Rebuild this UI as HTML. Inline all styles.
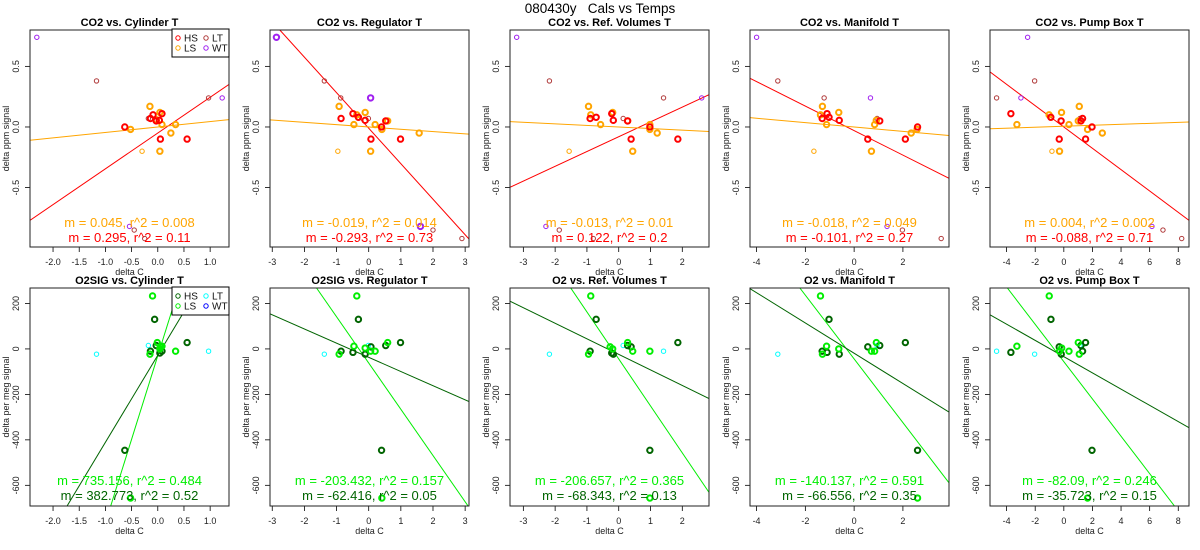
<!DOCTYPE html>
<html><head><meta charset="utf-8"><style>
html,body{margin:0;padding:0;background:#fff;width:1200px;height:550px;overflow:hidden}
svg{display:block;font-family:"Liberation Sans",sans-serif}
</style></head><body>
<svg id="chart" width="1200" height="550" viewBox="0 0 1200 550">
<text x="600" y="13" text-anchor="middle" font-size="13.5">080430y&#160;&#160;&#160;Cals vs Temps</text>
</svg>
<script>
// ---------- data ----------
const titles = ["CO2 vs. Cylinder T","CO2 vs. Regulator T","CO2 vs. Ref. Volumes T","CO2 vs. Manifold T","CO2 vs. Pump Box T",
 "O2SIG vs. Cylinder T","O2SIG vs. Regulator T","O2 vs. Ref. Volumes T","O2 vs. Manifold T","O2 vs. Pump Box T"];
const xLimits = [[-2.44,1.36],[-3.07,3.12],[-3.42,2.84],[-4.27,3.89],[-5.16,8.75]];
const xTicks = [[-2,-1.5,-1,-0.5,0,0.5,1],[-3,-2,-1,0,1,2,3],[-3,-2,-1,0,1,2],[-4,-2,0,2],[-4,-2,0,2,4,6,8]];
const xTickLabels = [["-2.0","-1.5","-1.0","-0.5","0.0","0.5","1.0"],["-3","-2","-1","0","1","2","3"],["-3","-2","-1","0","1","2"],["-4","-2","0","2"],["-4","-2","0","2","4","6","8"]];
const co2YLimit = [-0.99,0.80];
const co2YTicks = [-0.5,0,0.5];
const co2YTickLabels = ["-0.5","0.0","0.5"];
const o2YLimit = [-691,268];
const o2YTicks = [-600,-400,-200,0,200];
const o2YTickLabels = ["-600","-400","-200","0","200"];

// CO2 row: HS (red), LS (orange), LS thin, LT (brown), WT (purple)
const co2HSx = [[-0.63,-0.09,-0.14,-0.03,0.08,0.05,0.56,0.03],[-0.49,-0.86,-0.32,-0.11,0.40,0.53,0.07,0.99],[-0.90,-0.71,-0.22,-0.17,0.39,0.98,1.86,0.28],[-1.31,-1.11,-1.03,-0.61,0.56,1.05,2.10,2.60],[-3.70,-0.91,-0.32,-0.19,1.20,1.31,1.52,1.97]];
const co2HSy = [[0.00,0.10,0.07,0.05,0.11,-0.10,-0.10,0.055],[0.11,0.07,0.08,0.055,0.00,0.05,-0.10,-0.10],[0.07,0.08,0.11,0.055,-0.10,0.00,-0.10,0.05],[0.07,0.11,0.08,0.055,-0.10,0.05,-0.10,0.00],[0.11,0.08,-0.10,0.05,0.05,0.07,-0.10,0.00]];
const co2LSx = [[-0.52,-0.15,0.04,-0.03,0.08,0.34,0.25,0.04],[-0.92,-0.46,-0.37,-0.11,0.20,0.41,0.59,1.57,0.06],[-0.95,-0.88,-0.57,-0.19,0.28,0.98,0.98,1.21,0.44],[-1.30,-1.38,-1.13,-0.63,0.84,0.91,2.34,2.58,0.71],[-3.28,-1.03,-0.16,0.36,1.01,1.08,1.66,2.69,-0.30]];
const co2LSy = [[-0.02,0.17,0.12,0.06,0.02,0.02,-0.05,-0.20],[0.17,0.02,0.10,0.12,0.02,-0.02,0.05,-0.05,-0.20],[0.17,0.10,0.02,0.12,0.05,0.02,-0.02,-0.05,-0.20],[0.17,0.10,0.02,0.12,0.02,0.055,-0.05,-0.02,-0.20],[0.02,0.10,0.12,0.02,0.05,0.17,-0.02,-0.05,-0.20]];
const co2LSthinX = [[-0.30],[-0.96],[-1.56],[-1.65],[-0.83]];
const co2LSthinY = [[-0.20],[-0.20],[-0.20],[-0.20],[-0.20]];
const co2LTx = [[-1.17,0.97,-0.45,-0.25,-0.18],[-1.38,-0.87,-0.01,2.00,2.90],[-2.18,0.14,1.41,-1.87,-0.80],[-3.13,-1.23,0.94,1.98,3.57],[-4.70,-2.04,1.13,6.93,8.24]];
const co2LTy = [[0.38,0.24,-0.85,-0.92,0.07],[0.38,0.24,0.07,-0.85,-0.92],[0.38,0.07,0.24,-0.85,-0.92],[0.38,0.24,0.07,-0.85,-0.92],[0.24,0.38,0.07,-0.85,-0.92]];
const co2WTx = [[-2.31,1.23,-0.54],[-2.87,0.06,1.61],[-3.21,2.61,-2.29],[-4.00,0.67,1.35],[-2.53,-3.00,6.16]];
const co2WTy = [[0.74,0.24,-0.82],[0.74,0.24,-0.82],[0.74,0.24,-0.82],[0.74,0.24,-0.82],[0.74,0.24,-0.82]];
const co2HSslope = [0.295,-0.293,0.122,-0.101,-0.088];
const co2HSintercept = [-0.05,-0.01,-0.08,-0.03,0.0];
const co2LSslope = [0.045,-0.019,-0.013,-0.018,0.004];
const co2LSintercept = [0.0,0.0,0.0,0.0,0.006];
const co2LSlabels = ["m = 0.045, r^2 = 0.008","m = -0.019, r^2 = 0.014","m = -0.013, r^2 = 0.01","m = -0.018, r^2 = 0.049","m = 0.004, r^2 = 0.002"];
const co2HSlabels = ["m = 0.295, r^2 = 0.11","m = -0.293, r^2 = 0.73","m = 0.122, r^2 = 0.2","m = -0.101, r^2 = 0.27","m = -0.088, r^2 = 0.71"];

// O2 row: HS (darkgreen), LS (green), LT (cyan)
const o2HSx = [[-0.06,0.56,-0.63,-0.14,-0.03,0.04,0.08],[-0.32,0.99,0.40,-0.86,-0.49,-0.11,0.53,0.07],[-0.71,1.86,0.98,-0.90,-0.22,-0.17,0.28,0.39],[-1.03,2.10,2.60,-1.31,-1.11,-0.61,0.56,1.05],[-0.90,1.52,1.97,-3.70,-0.32,-0.18,1.20,1.31]];
const o2HSy = [[130,28,-446,-10,15,-18,-10],[130,28,-446,-10,-15,-23,15,9],[130,28,-446,-10,-18,-23,15,9],[130,28,-446,-10,-15,-23,9,15],[130,28,-446,-15,9,-23,15,-10]];
const o2LSx = [[-0.10,-0.15,-0.01,0.05,0.08,0.34,-0.52,0.04],[-0.37,-0.92,-0.46,-0.11,0.20,0.59,0.41,0.06],[-0.88,-0.95,-0.27,-0.19,0.28,0.44,0.98,0.98],[-1.38,-1.30,-1.13,-0.63,0.91,0.71,0.84,2.60],[-1.02,-3.28,-0.15,0.36,1.01,1.08,-0.30,1.66]];
const o2LSy = [[233,-23,28,9,12,-10,-656,0],[233,-23,12,4,-10,28,-656,-10],[233,-23,9,0,28,-10,-10,-656],[233,-23,12,0,28,-10,-10,-656],[233,12,4,-10,28,-23,-10,-656]];
const o2LTx = [[-1.17,-0.18,0.97],[-1.38,-0.01],[0.14,1.41,-2.18],[-3.13,0.94],[-4.70,-2.04,1.13]];
const o2LTy = [[-23,15,-10],[-23,15],[15,-10,-23],[-23,15],[-10,-23,15]];
const o2LSslope = [735.156,-203.432,-206.657,-140.137,-82.09];
const o2LSintercept = [-30,-62,-44,-44,-56];
const o2HSslope = [382.773,-62.416,-68.343,-66.556,-35.723];
const o2HSintercept = [-28,-37,-24,-19,-34];
const o2LSlabels = ["m = 735.156, r^2 = 0.484","m = -203.432, r^2 = 0.157","m = -206.657, r^2 = 0.365","m = -140.137, r^2 = 0.591","m = -82.09, r^2 = 0.246"];
const o2HSlabels = ["m = 382.773, r^2 = 0.52","m = -62.416, r^2 = 0.05","m = -68.343, r^2 = 0.13","m = -66.556, r^2 = 0.35","m = -35.723, r^2 = 0.15"];

// ---------- drawing ----------
const NS = "http://www.w3.org/2000/svg";
const svg = document.getElementById("chart");
function mk(tag, attrs, parent) {
  const e = document.createElementNS(NS, tag);
  for (const k in attrs) e.setAttribute(k, attrs[k]);
  (parent || svg).appendChild(e);
  return e;
}

function panel(row, col) {
  const L = 30 + 240 * col, R = 229 + 240 * col;
  const T = row === 0 ? 30 : 288, B = row === 0 ? 247 : 506;
  const xl = xLimits[col], yl = row === 0 ? co2YLimit : o2YLimit;
  const sx = v => L + (v - xl[0]) / (xl[1] - xl[0]) * (R - L);
  const sy = v => B - (v - yl[0]) / (yl[1] - yl[0]) * (B - T);
  const g = mk("g", {});
  
  
  const clipId = "clip" + row + col;
  const cp = mk("clipPath", {id: clipId}, g);
  mk("rect", {x: L, y: T, width: R - L, height: B - T}, cp);

  const title = mk("text", {x: (L + R) / 2, y: T - 4, "text-anchor": "middle", "font-size": "11", "font-weight": "bold"}, g);
  title.textContent = titles[row * 5 + col];
  
  

  const xt = xTicks[col], xtl = xTickLabels[col];
  for (let i = 0; i < xt.length; i++) {
    const x = sx(xt[i]);
    const tk = mk("line", {x1: x, x2: x, y1: B, y2: B + 5, stroke: "#000", "stroke-width": 0.8}, g);
    
    
    const t = mk("text", {x: x, y: B + 18, "text-anchor": "middle", "font-size": "9", fill: "#222"}, g);
    t.textContent = xtl[i];
    
    
  }
  const xa = mk("line", {x1: sx(xt[0]), x2: sx(xt[xt.length - 1]), y1: B, y2: B, stroke: "#000", "stroke-width": 0.8}, g);
  
  
  const xlab = mk("text", {x: (L + R) / 2, y: B + 28, "text-anchor": "middle", "font-size": "9", fill: "#222"}, g);
  xlab.textContent = "delta C";
  
  

  const yt = row === 0 ? co2YTicks : o2YTicks, ytl = row === 0 ? co2YTickLabels : o2YTickLabels;
  for (let i = 0; i < yt.length; i++) {
    const y = sy(yt[i]);
    const tk = mk("line", {x1: L - 5, x2: L, y1: y, y2: y, stroke: "#000", "stroke-width": 0.8}, g);
    
    
    const t = mk("text", {x: L - 11, y: y, "text-anchor": "middle", "font-size": "9", fill: "#222", transform: `rotate(-90 ${L - 11} ${y})`}, g);
    t.textContent = ytl[i];
    
    
  }
  const ya = mk("line", {x1: L, x2: L, y1: sy(yt[0]), y2: sy(yt[yt.length - 1]), stroke: "#000", "stroke-width": 0.8}, g);
  
  
  const ylx = L - 21, yly = (T + B) / 2;
  const ylab = mk("text", {x: ylx, y: yly, "text-anchor": "middle", "font-size": "9", fill: "#222", transform: `rotate(-90 ${ylx} ${yly})`}, g);
  ylab.textContent = row === 0 ? "delta ppm signal" : "delta per meg signal";
  
  

  const inner = mk("g", {"clip-path": `url(#${clipId})`}, g);
  function pts(xs, ys, color, thick, name) {
    for (let i = 0; i < xs.length; i++) {
      const c = mk("circle", {cx: sx(xs[i]), cy: sy(ys[i]), r: thick ? 2.7 : 2.2, fill: "none", stroke: color, "stroke-width": thick ? 2 : 1}, inner);
      
      
    }
  }
  function fitLine(m, b, color, name) {
    // clip the line to the plot box in data space
    let x0 = xl[0], x1 = xl[1];
    if (m !== 0) {
      const xa = (yl[0] - b) / m, xb = (yl[1] - b) / m;
      x0 = Math.max(x0, Math.min(xa, xb));
      x1 = Math.min(x1, Math.max(xa, xb));
    }
    const ln = mk("line", {x1: sx(x0), y1: sy(m * x0 + b), x2: sx(x1), y2: sy(m * x1 + b), stroke: color, "stroke-width": 1}, inner);
    
    
  }
  function label(txt, color, y, name) {
    const t = mk("text", {x: (L + R) / 2, y: y, "text-anchor": "middle", "font-size": "13", fill: color}, g);
    t.textContent = txt;
    
    
  }
  let legendCols;
  if (row === 0) {
    fitLine(co2HSslope[col], co2HSintercept[col], "#ff0000", "hs-fit-line");
    fitLine(co2LSslope[col], co2LSintercept[col], "#ffa500", "ls-fit-line");
    pts(co2LTx[col], co2LTy[col], "#b03a3a", false, "lt-point");
    pts(co2WTx[col], co2WTy[col], "#a020f0", col === 1, "wt-point");
    pts(co2LSthinX[col], co2LSthinY[col], "#ffa500", false, "ls-point-thin");
    pts(co2LSx[col], co2LSy[col], "#ffa500", true, "ls-point");
    pts(co2HSx[col], co2HSy[col], "#ff0000", true, "hs-point");
    label(co2LSlabels[col], "#ffa500", 227, "ls-fit-label");
    label(co2HSlabels[col], "#ff0000", 242, "hs-fit-label");
    legendCols = ["#ff0000", "#ffa500", "#b03a3a", "#a020f0"];
  } else {
    fitLine(o2LSslope[col], o2LSintercept[col], "#00ee00", "ls-fit-line");
    fitLine(o2HSslope[col], o2HSintercept[col], "#006400", "hs-fit-line");
    pts(o2LTx[col], o2LTy[col], "#00ffff", false, "lt-point");
    pts(o2HSx[col], o2HSy[col], "#006400", true, "hs-point");
    pts(o2LSx[col], o2LSy[col], "#00ee00", true, "ls-point");
    label(o2LSlabels[col], "#00ee00", 485, "ls-fit-label");
    label(o2HSlabels[col], "#006400", 500, "hs-fit-label");
    legendCols = ["#006400", "#00ee00", "#00ffff", "#0000ff"];
  }
  const box = mk("rect", {x: L, y: T, width: R - L, height: B - T, fill: "none", stroke: "#222", "stroke-width": 1}, g);
  
  

  if (col === 0) {
    const lg = mk("g", {}, g);
    
    
    mk("rect", {x: 172, y: T - 1, width: 57, height: 28, fill: "#fff", stroke: "#000", "stroke-width": 1}, lg);
    const names = ["HS", "LS", "LT", "WT"];
    for (let i = 0; i < 4; i++) {
      const cx = i < 2 ? 178 : 206, cy = T + (i % 2 === 0 ? 8 : 18);
      const e = mk("g", {}, lg);
      
      
      mk("circle", {cx: cx, cy: cy, r: 2.2, fill: "none", stroke: legendCols[i], "stroke-width": 1}, e);
      const t = mk("text", {x: cx + 6, y: cy + 3.5, "font-size": "10", fill: "#111"}, e);
      t.textContent = names[i];
    }
  }
}
for (let r = 0; r < 2; r++) for (let c = 0; c < 5; c++) panel(r, c);
</script>
</body></html>
